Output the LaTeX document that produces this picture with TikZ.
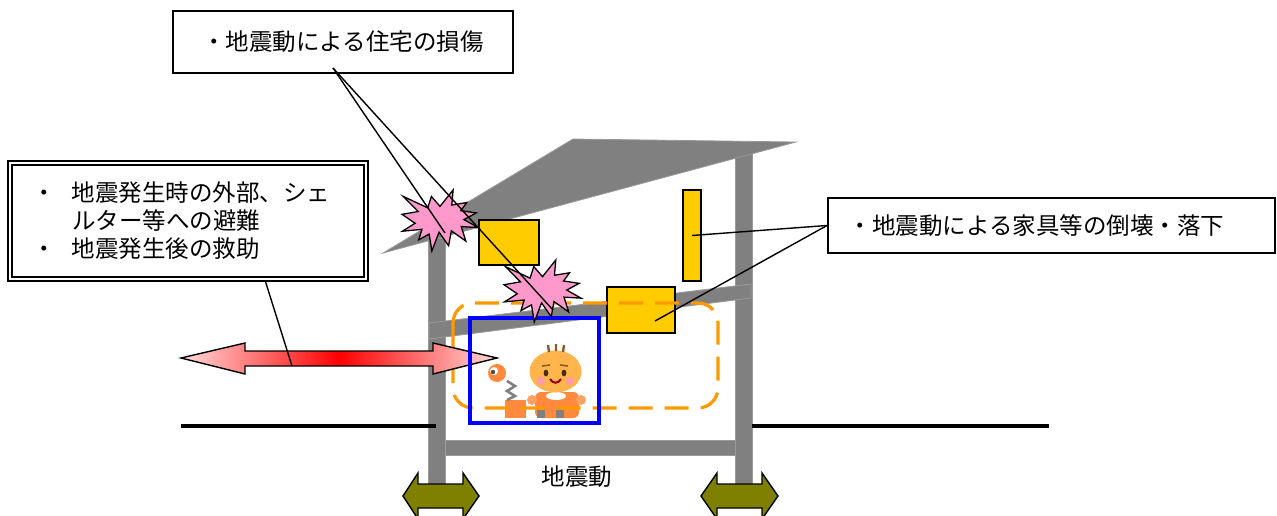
\documentclass[tikz,border=0pt]{standalone}
\usepackage{fontspec}
\setmainfont{Noto Sans CJK JP}
\usetikzlibrary{calc}

\definecolor{wallgray}{HTML}{808080}
\definecolor{walledge}{HTML}{9A9A9A}
\definecolor{furniture}{HTML}{FFCC00}
\definecolor{burstpink}{HTML}{FF99CC}
\definecolor{zoneorange}{HTML}{FF9900}
\definecolor{shelterblue}{HTML}{0000FF}
\definecolor{quakeolive}{HTML}{808000}
\definecolor{skin}{HTML}{FFB44C}
\definecolor{suit}{HTML}{FF8A3D}
\definecolor{hair}{HTML}{8B5A2B}
\definecolor{cheek}{HTML}{FF9AAE}

% pink at both ends, pure red in the middle
\pgfdeclarehorizontalshading{evacshade}{100bp}{rgb(0bp)=(1,0.86,0.86); rgb(25bp)=(1,0.86,0.86); rgb(50bp)=(1,0,0); rgb(75bp)=(1,0.86,0.86); rgb(100bp)=(1,0.86,0.86)}

\tikzset{
  jp/.style={font=\fontsize{23.5}{28}\selectfont},
  labelbox/.style={draw=black, line width=1.6, fill=white, inner sep=0, jp},
  furnbox/.style={draw=black, line width=1.3, fill=furniture, inner sep=0},
  structure/.style={fill=wallgray, draw=walledge, line width=0.8},
  ground/.style={line width=4.2, black},
  callout/.style={line width=1.4, black},
  quake/.style={fill=quakeolive, draw=black, line width=1.4, line join=miter},
  % explosion outline in a unit square
  burst/.pic={\draw[fill=burstpink, line width=1.3, line join=miter]
    (0.5,0.2685) -- (0.6723,0) -- (0.6553,0.2465) -- (0.8509,0.2063) -- (0.7732,0.3387)
    -- (0.9767,0.3767) -- (0.8151,0.4850) -- (1,0.6153) -- (0.7795,0.5992) -- (0.8400,0.8377)
    -- (0.6491,0.6693) -- (0.6133,0.9138) -- (0.4876,0.6914) -- (0.3928,1) -- (0.3572,0.7235)
    -- (0.2205,0.8156) -- (0.2624,0.6452) -- (0.0063,0.6753) -- (0.1723,0.5451) -- (0,0.3988)
    -- (0.2142,0.3526) -- (0.0171,0.1063) -- (0.3385,0.2926) -- (0.3867,0.1063) -- cycle;}
}

\begin{document}
\begin{tikzpicture}[x=1pt,y=-1pt]
\useasboundingbox (0,0) rectangle (1277,516);
\clip (0,0) rectangle (1277,516);

% ---- house frame ----
\path[structure] (428,238) rectangle (445,500);
\path[structure] (735,148) rectangle (752,500);
\path[structure] (445,440) rectangle (735,455);
\path[structure] (429,323) -- (751,284) -- (751,298) -- (429,339) -- cycle;
\path[structure] (383,253) -- (573,139) -- (796,142) -- cycle;

% ---- ground ----
\draw[ground] (181,426) -- (436,426);
\draw[ground] (752,426) -- (1049,426);

% ---- furniture ----
\node[furnbox, minimum width=60, minimum height=45] (fA) at (509,242.5) {};
\node[furnbox, minimum width=18, minimum height=91] (fB) at (692,235.5) {};
\node[furnbox, minimum width=68, minimum height=46] (fC) at (641,310) {};

% ---- child with a spring toy ----
\fill[suit] (505,400) rectangle (526,418);
\draw[gray, line width=2.6, line join=miter] (507,381) -- (515,386) -- (507,391) -- (515,396) -- (507,400);
\fill[suit] (497,373) circle (9);
\fill[white] (494,371) circle (4);
\fill[gray!60!black] (493,372) circle (2.2);
\fill[suit, rounded corners=6] (535,392) rectangle (579,418);
\fill[suit!80!white] (532,400) circle (5);
\fill[suit!80!white] (581,400) circle (5);
\fill[gray] (537,410) rectangle (545,418);
\fill[gray] (556,410) rectangle (564,418);
\fill[white] (556,396) ellipse (10 and 4);
\fill[skin] (555.5,371.5) ellipse (26 and 21);
\draw[hair, line width=2.4] (549,352) -- (548,345) (556,351) -- (556,344) (563,352) -- (564,345);
\draw[hair, line width=1.6] (542,366) -- (550,365) (560,365) -- (568,366);
\fill[hair!50!black] (546,373) ellipse (2.4 and 3.4);
\fill[hair!50!black] (564,373) ellipse (2.4 and 3.4);
\fill[cheek] (541,381) circle (4);
\fill[cheek] (570,381) circle (4);
\draw[red!60!black, line width=2] (550,379) .. controls (553,384) and (558,384) .. (561,379);

% ---- safe zone and shelter ----
\draw[zoneorange, line width=3.2, dash pattern=on 24 off 12, rounded corners=20] (453,303) rectangle (718,408);

% ---- evacuation arrow ----
\path[shading=evacshade, draw=black, line width=1.4, line join=miter]
  (181,358) -- (245,343) -- (245,351) -- (433,351) -- (433,343) -- (497,358)
  -- (433,374) -- (433,366) -- (245,366) -- (245,374) -- cycle;
\coordinate (evacpt) at (292,366);

\draw[shelterblue, line width=4] (470,318) rectangle (599,423);

% ---- damage bursts ----
\pic[xscale=76, yscale=61] at (402,190) {burst};
\pic[xscale=77, yscale=62] at (504,260) {burst};
\coordinate (b1) at (445,233);
\coordinate (b2) at (553,310);
\coordinate (cEnd) at (655,321);

% ---- labels ----
\node[labelbox, minimum width=340, minimum height=62] (tbox) at (343,42) {・地震動による住宅の損傷};
\node[labelbox, anchor=west, text width=405, align=left, inner xsep=21, minimum height=55] (rbox) at (827,225.5) {・地震動による家具等の倒壊・落下};
\node[draw=black, fill=white, double, double distance=2.4, line width=2.2, inner sep=0,
      minimum width=356, minimum height=116, jp, text width=312, align=left, inner xsep=22] (lbox) at (188,221)
  {\raisebox{-5pt}{\parbox{312pt}{\makebox[40pt][l]{・}地震発生時の外部、シェ\\\hspace*{40pt}ルター等への避難\\\makebox[40pt][l]{・}地震発生後の救助}}};

\coordinate (tfoot) at (333,68);
\draw[callout] (tfoot) -- (b1);
\draw[callout] (tfoot) -- (b2);
\draw[callout] (rbox.west) -- (fB.center);
\draw[callout] (rbox.west) -- (cEnd);
\draw[callout] ($(lbox.south)+(77,0)$) -- (evacpt);

% ---- ground motion ----
\path[quake] (403,496) -- (418,473) -- (418,484) -- (463,484) -- (463,473) -- (479,496)
  -- (463,519) -- (463,508) -- (418,508) -- (418,519) -- cycle;
\path[quake] (701,496) -- (717,473) -- (717,484) -- (762,484) -- (762,473) -- (778,496)
  -- (762,519) -- (762,508) -- (717,508) -- (717,519) -- cycle;
\node[jp] (quakelabel) at (577,477) {地震動};
\end{tikzpicture}
\end{document}
